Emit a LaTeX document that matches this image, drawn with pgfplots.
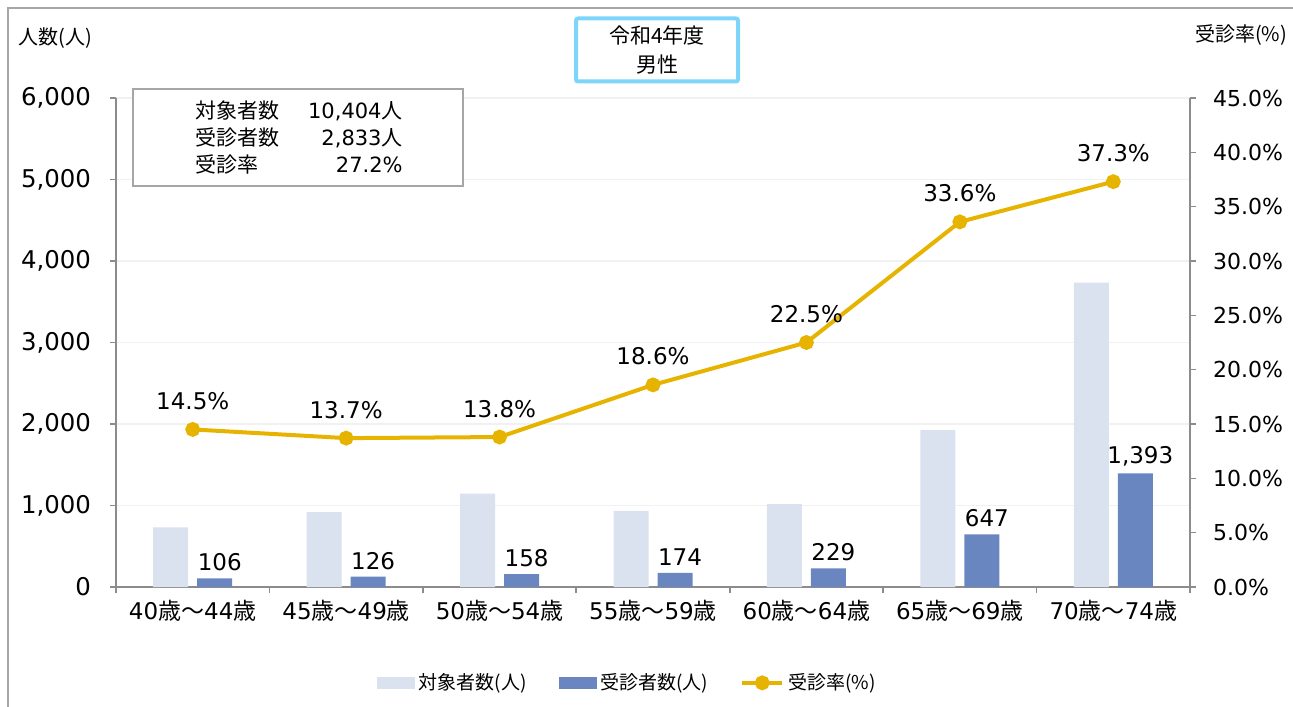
\documentclass[border=0pt]{standalone}
\usepackage{fontspec}
\setmainfont{DejaVu Sans}
\newfontfamily\jp{Noto Sans CJK JP}
\usepackage{pgfplots}
\pgfplotsset{compat=1.18}
\definecolor{lightbar}{HTML}{DAE1EF}
\definecolor{darkbar}{HTML}{6A86C1}
\definecolor{gold}{HTML}{E6B400}
\definecolor{axisgray}{HTML}{8C8C8C}
\definecolor{gridgray}{HTML}{F1F1F1}
\definecolor{boxcyan}{HTML}{7DD6FA}
\definecolor{framegray}{HTML}{A6A6A6}
\pgfplotsset{
  /pgf/number format/assume math mode=true,
  /pgf/number format/1000 sep={,},
  commonax/.style={scale only axis, width=537pt, height=244.5pt,
    at={(58pt,59.5pt)}, anchor=south west, xmin=-0.5, xmax=6.5, ymin=0,
    axis line style={-,draw=axisgray,line width=0.8pt},
    tick align=outside, major tick length=3pt,
    tick style={draw=axisgray, line width=0.8pt},
    tick label style={font=\fontsize{11.5}{13}\selectfont},
    scaled y ticks=false, clip=false}
}
\begin{document}
\begin{tikzpicture}
\path[use as bounding box] (0,0) rectangle (646.5pt,353pt);
\draw[framegray, line width=0.6pt] (4pt,-2pt) -- (4pt,349pt) -- (650pt,349pt);

\begin{axis}[commonax, ymax=6000, ytick={0,1000,...,6000},
  axis y line*=left, axis x line*=bottom,
  ymajorgrids, grid style={draw=gridgray, line width=0.6pt},
  yticklabel style={font=\fontsize{12.2}{13}\selectfont, xshift=-6pt},
  xtick={-0.5,0.5,...,6.5}, xticklabels={},
  extra x ticks={0,1,2,3,4,5,6},
  extra x tick labels={40{\jp 歳～}44{\jp 歳},45{\jp 歳～}49{\jp 歳},50{\jp 歳～}54{\jp 歳},55{\jp 歳～}59{\jp 歳},60{\jp 歳～}64{\jp 歳},65{\jp 歳～}69{\jp 歳},70{\jp 歳～}74{\jp 歳}},
  extra x tick style={major tick length=0pt, xticklabel style={yshift=-3pt}}]
\addplot[ybar, bar width=17.5pt, bar shift=-11pt, fill=lightbar, draw=none]
  coordinates {(0,731) (1,920) (2,1145) (3,935) (4,1018) (5,1926) (6,3735)};
\addplot[ybar, bar width=17.5pt, bar shift=11pt, fill=darkbar, draw=none,
  nodes near coords,
  every node near coord/.append style={font=\fontsize{11.5}{13}\selectfont, text=black, xshift=13.5pt}]
  coordinates {(0,106) (1,126) (2,158) (3,174) (4,229) (5,647) (6,1393)};
\end{axis}

\begin{axis}[commonax, ymax=45, ytick={0,5,...,45},
  axis y line*=right, axis x line=none,
  yticklabel style={font=\fontsize{11}{13}\selectfont, xshift=5pt},
  yticklabel={\pgfmathprintnumber[fixed,fixed zerofill,precision=1]{\tick}\%},
  legend style={draw=none, at={(0.477,-0.196)}, anchor=center, legend columns=3,
    font=\jp\fontsize{9.5}{12}\selectfont,
    /tikz/every even column/.append style={column sep=14pt}},
  legend cell align=left]
\addlegendimage{legend image code/.code={\fill[lightbar] (0pt,-2.6pt) rectangle (18.5pt,2.6pt);}}
\addlegendentry{対象者数(人)}
\addlegendimage{legend image code/.code={\fill[darkbar] (0pt,-2.6pt) rectangle (18.5pt,2.6pt);}}
\addlegendentry{受診者数(人)}
\addplot[gold, line width=2pt, mark=*, mark size=2.7pt, mark options={fill=gold, draw=gold},
  nodes near coords={\pgfmathprintnumber[fixed,fixed zerofill,precision=1]{\pgfplotspointmeta}\%},
  every node near coord/.append style={font=\fontsize{11.5}{13}\selectfont, text=black, anchor=south, yshift=5.5pt},
  legend image code/.code={\draw[gold,line width=2pt] (0pt,0pt) -- (20pt,0pt); \fill[gold] (10pt,0pt) circle (2.7pt);}]
  coordinates {(0,14.5) (1,13.7) (2,13.8) (3,18.6) (4,22.5) (5,33.6) (6,37.3)};
\addlegendentry{受診率(\%)}
\end{axis}

\node[font=\jp\fontsize{10}{12}\selectfont] at (27.5pt,334pt) {人数(人)};
\node[font=\jp\fontsize{10}{12}\selectfont] at (620.5pt,335.5pt) {受診率(\%)};

\node[draw=boxcyan, line width=2pt, fill=white, rounded corners=1pt, minimum width=81pt, minimum height=31.5pt, align=center, font=\jp\fontsize{10.5}{14.5}\selectfont] at (328.5pt,328pt) {令和4年度\\男性};

\draw[framegray, fill=white, line width=0.6pt] (66.5pt,260pt) rectangle (231.5pt,308.5pt);
\begin{scope}[every node/.style={inner sep=0pt, font=\fontsize{10.5}{12}\selectfont}]
\node[anchor=base west] at (97.5pt,293.5pt) {\jp 対象者数};
\node[anchor=base west] at (97.5pt,280pt) {\jp 受診者数};
\node[anchor=base west] at (97.5pt,266.5pt) {\jp 受診率};
\node[anchor=base east] at (201.5pt,293.5pt) {10,404{\jp 人}};
\node[anchor=base east] at (201.5pt,280pt) {2,833{\jp 人}};
\node[anchor=base east] at (201.5pt,266.5pt) {27.2\%};
\end{scope}
\end{tikzpicture}
\end{document}
